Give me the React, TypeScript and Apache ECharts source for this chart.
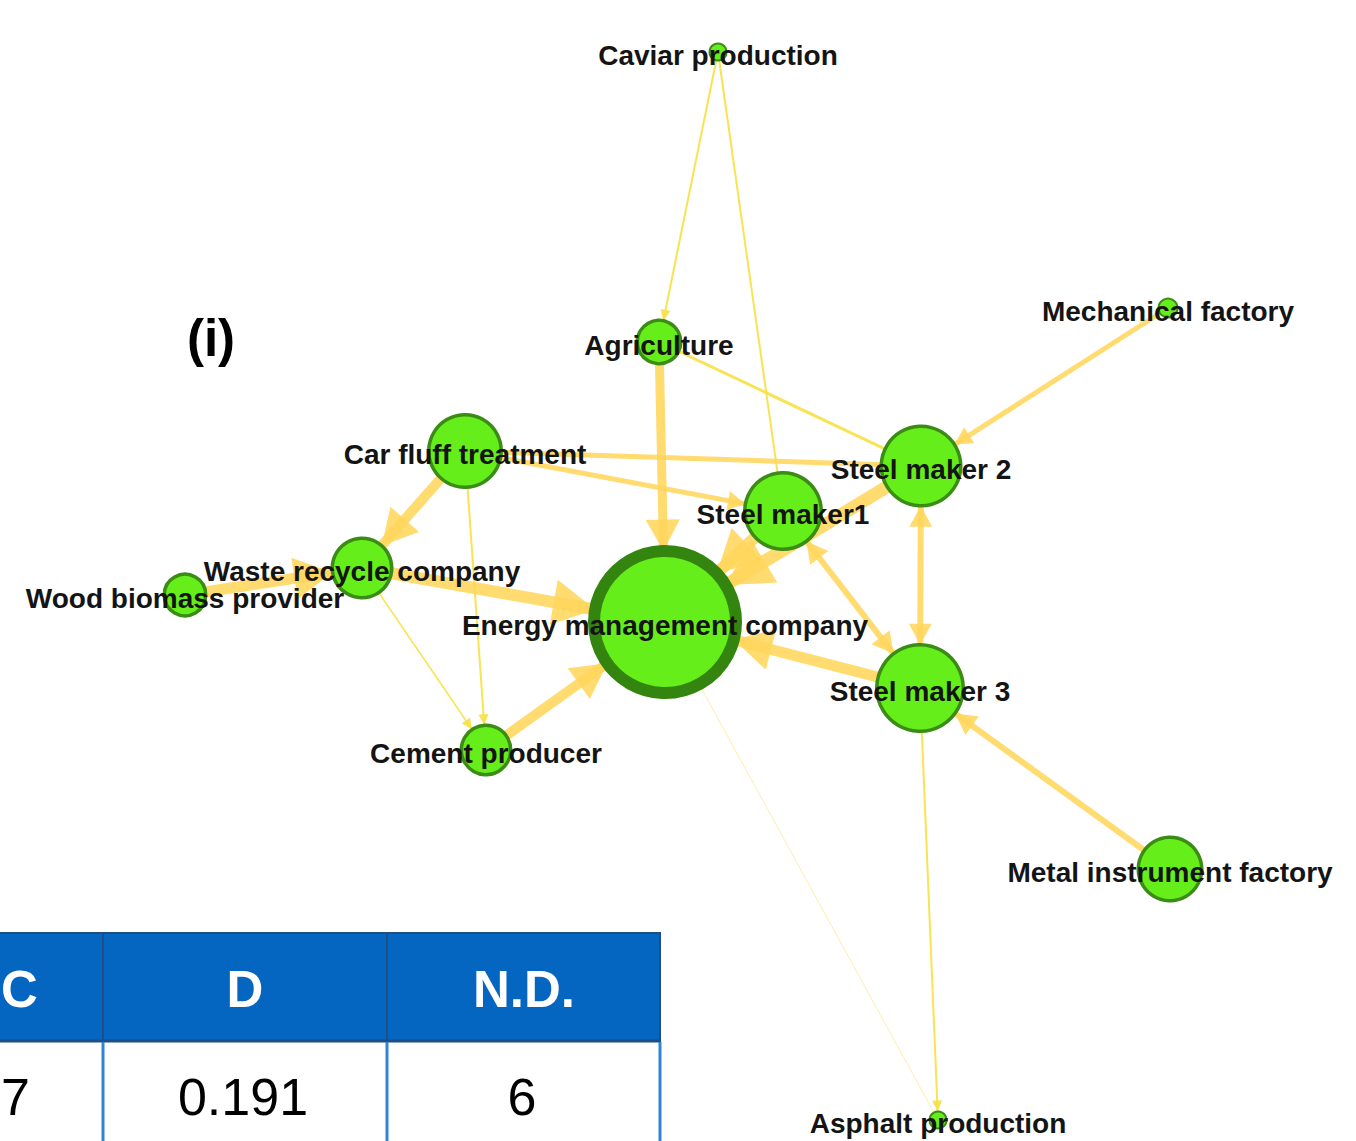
import React, { useEffect, useRef } from 'react';
import * as echarts from 'echarts';

// ---- Network data ----
const nodeNames = [
  'Caviar production',
  'Agriculture',
  'Mechanical factory',
  'Car fluff treatment',
  'Steel maker 2',
  'Steel maker1',
  'Waste recycle company',
  'Wood biomass provider',
  'Energy management company',
  'Steel maker 3',
  'Cement producer',
  'Metal instrument factory',
  'Asphalt production',
];
const nodeX = [718, 659, 1168, 465, 921, 783, 362, 185, 665, 920, 486, 1170, 938];
const nodeY = [52, 342, 308, 451, 466, 511, 568, 595, 622, 688, 750, 869, 1120];
const nodeWeight = [19, 47, 21, 76, 83, 80, 63, 45, 154, 90, 53, 67, 19];

const linkSource = [0, 0, 1, 1, 2, 3, 3, 3, 3, 6, 7, 6, 10, 5, 4, 4, 5, 9, 11, 9, 8];
const linkTarget = [1, 5, 8, 4, 4, 6, 4, 5, 10, 8, 6, 10, 8, 8, 8, 9, 9, 8, 9, 12, 12];
const linkWeight = [2, 2, 9, 3, 5, 10, 5, 5, 2, 12, 11, 1.5, 10, 12, 13, 6, 6, 11, 6, 2, 1];
const linkDirection = [
  'to', 'none', 'to', 'none', 'to', 'to', 'none', 'to', 'to', 'to', 'to',
  'to', 'to', 'to', 'to', 'both', 'both', 'to', 'to', 'to', 'none',
];

const tableHeaders = ['C', 'D', 'N.D.'];
const tableValues = ['7', '0.191', '6'];
const panelLabel = '(i)';

// triangle whose tip sits at the symbol centre (so it touches the node border)
const ARROW = 'path://M0,-20L0.01,-20M0,0L10,20L-10,20Z';
const FONT = "'Liberation Sans', Arial, Helvetica, sans-serif";

export default function App() {
  const ref = useRef<HTMLDivElement>(null);

  useEffect(() => {
    document.body.style.margin = '0';
    const chart = echarts.init(ref.current!, null, { renderer: 'svg' });

    const nodes = nodeNames.map((name, i) => {
      const border = nodeWeight[i] > 120 ? 12 : nodeWeight[i] < 25 ? 2 : 3.5;
      return {
        name,
        value: [nodeX[i], nodeY[i]],
        symbolSize: nodeWeight[i] - border,
        itemStyle: {
          color: '#66ee1a',
          borderColor: nodeWeight[i] > 120 ? '#348510' : '#3a8c14',
          borderWidth: border,
        },
      };
    });

    const links = linkSource.map((s, i) => {
      const w = linkWeight[i];
      const aw = Math.max(10, w * 3.8);
      const al = Math.max(11, w * 3.5);
      const dir = linkDirection[i];
      const color = w >= 4 ? '#ffd65c' : w >= 1.5 ? '#f7e14a' : '#fbeea6';
      const link: any = {
        source: nodeNames[s],
        target: nodeNames[linkTarget[i]],
        lineStyle: { width: w, color, opacity: w >= 4 ? 0.88 : 0.95, curveness: 0 },
      };
      if (dir === 'to') {
        link.symbol = ['none', ARROW];
        link.symbolSize = [[1, 1], [aw, al * 2]];
      } else if (dir === 'both') {
        link.symbol = [ARROW, ARROW];
        link.symbolSize = [[aw, al * 2], [aw, al * 2]];
      }
      return link;
    });

    const colX = [103, 387, 660];
    const graphic: any[] = [
      {
        type: 'text',
        style: { text: panelLabel, x: 211, y: 338, align: 'center', verticalAlign: 'middle', font: `bold 51px ${FONT}`, fill: '#000' },
      },
      { type: 'rect', shape: { x: 0, y: 932, width: 660, height: 109 }, style: { fill: '#0566c2' } },
      { type: 'rect', shape: { x: 0, y: 1041, width: 660, height: 110 }, style: { fill: '#ffffff' } },
      { type: 'line', shape: { x1: 0, y1: 933, x2: 661, y2: 933 }, style: { stroke: '#1d4f86', lineWidth: 2 } },
      { type: 'line', shape: { x1: 0, y1: 1041, x2: 661, y2: 1041 }, style: { stroke: '#1d4f86', lineWidth: 3 } },
    ];
    colX.forEach((x) => {
      graphic.push({ type: 'line', shape: { x1: x, y1: 932, x2: x, y2: 1041 }, style: { stroke: '#1d4f86', lineWidth: 2 } });
      graphic.push({ type: 'line', shape: { x1: x, y1: 1042, x2: x, y2: 1141 }, style: { stroke: '#2f84d8', lineWidth: 3 } });
    });
    const textX = [1, 245, 524];
    const textAlign = ['left', 'center', 'center'];
    tableHeaders.forEach((t, i) => {
      graphic.push({
        type: 'text',
        style: { text: t, x: textX[i], y: 989, align: textAlign[i], verticalAlign: 'middle', font: `bold 51px ${FONT}`, fill: '#ffffff' },
      });
    });
    tableValues.forEach((t, i) => {
      graphic.push({
        type: 'text',
        style: { text: t, x: textX[i] + (i === 0 ? 0 : -2), y: 1097, align: textAlign[i], verticalAlign: 'middle', font: `52px ${FONT}`, fill: '#000000' },
      });
    });

    chart.setOption({
      animation: false,
      backgroundColor: '#ffffff',
      grid: { left: 0, right: 0, top: 0, bottom: 0, containLabel: false },
      xAxis: { type: 'value', min: 0, max: 1356, show: false },
      yAxis: { type: 'value', min: 0, max: 1141, inverse: true, show: false },
      graphic,
      series: [
        {
          type: 'graph',
          coordinateSystem: 'cartesian2d',
          layout: 'none',
          roam: false,
          silent: true,
          symbol: 'circle',
          data: nodes,
          links,
          label: {
            show: true,
            position: 'inside',
            offset: [0, 3],
            color: '#141414',
            fontSize: 28,
            fontWeight: 'bold',
            fontFamily: FONT,
          },
          emphasis: { disabled: true },
        },
      ],
    });

    return () => chart.dispose();
  }, []);

  return (
    <div
      ref={ref}
      style={{ width: 1356, height: 1141, position: 'absolute', left: 0, top: 0, background: '#fff' }}
    />
  );
}
